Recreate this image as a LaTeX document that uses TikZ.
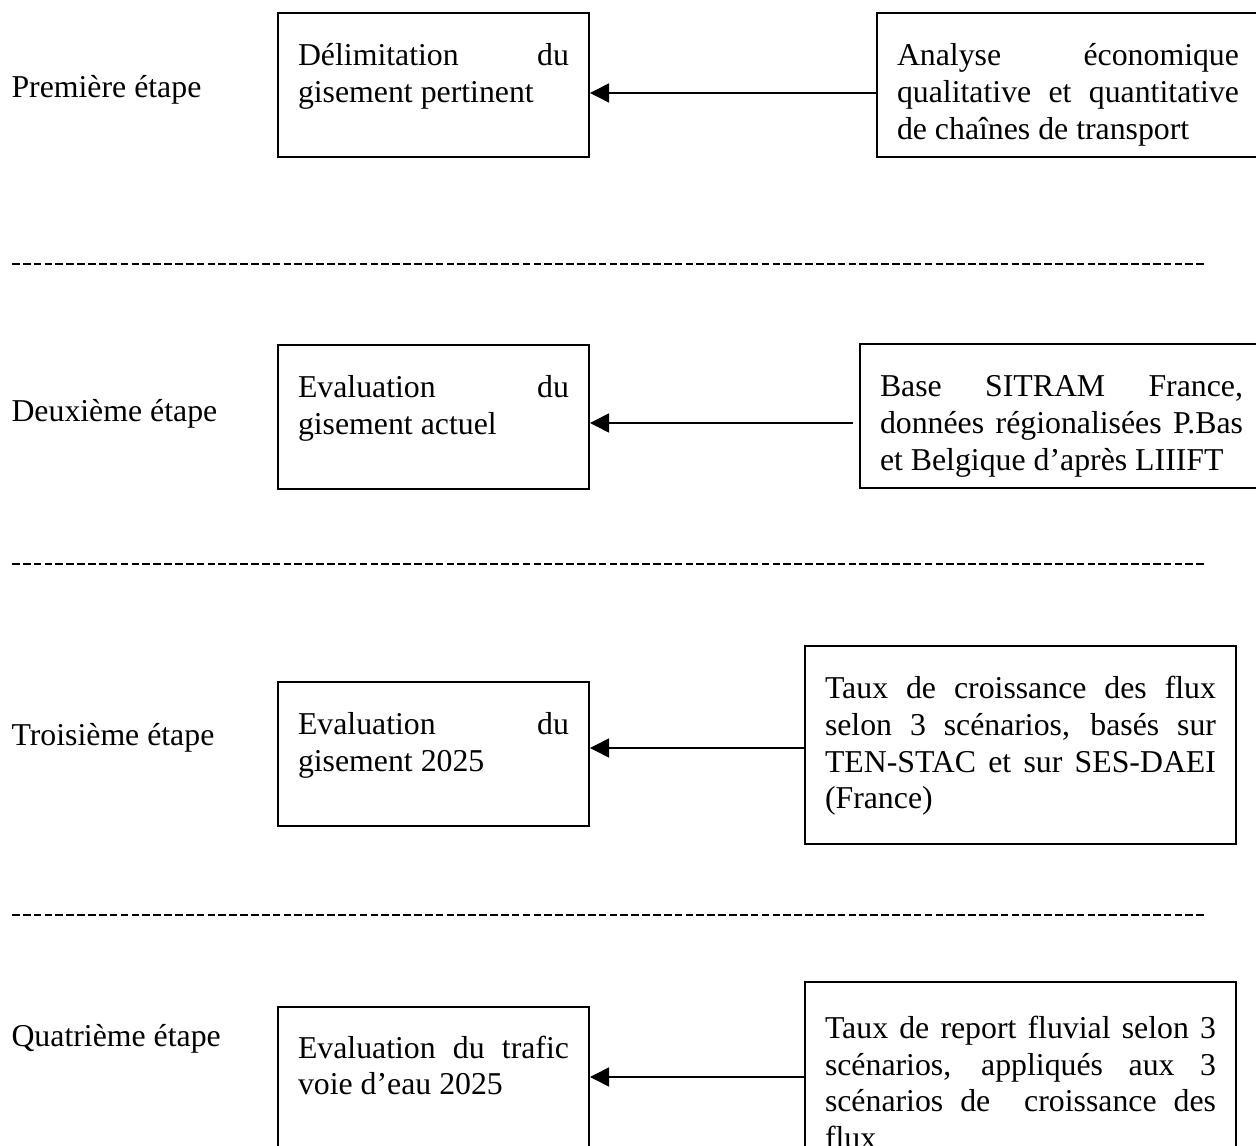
\documentclass[tikz,border=0pt]{standalone}
\usepackage{fontspec}
\setmainfont{Liberation Serif}
\usetikzlibrary{positioning,arrows.meta}
\hyphenpenalty=10000
\exhyphenpenalty=10000
\tikzset{
  stepbox/.style  = {draw, line width=0.75pt, anchor=north west, inner xsep=7.55pt,
                     inner ysep=0pt, align=justify, text height=20pt},
  leftbox/.style  = {stepbox, text width=102.26pt, text depth=34.34pt},
  stagelbl/.style = {anchor=base west, inner sep=0pt},
  flow/.style     = {-{Triangle[length=7.2pt,width=7.2pt]}, line width=0.6pt},
  sepline/.style  = {line width=0.8pt, dash pattern=on 2.9pt off 1.2pt},
}

\begin{document}
\begin{tikzpicture}[x=0.37736pt,y=-0.37736pt,font=\fontsize{12pt}{13.78pt}\selectfont]
  \useasboundingbox (0,0) rectangle (1256,1146);
  % stage labels
  \node[stagelbl] (lbl1) at (11,98)   {Première étape};
  \node[stagelbl] (lbl2) at (11,422)  {Deuxième étape};
  \node[stagelbl] (lbl3) at (11,746)  {Troisième étape};
  \node[stagelbl] (lbl4) at (11,1047) {Quatrième étape};
  % step boxes
  \node[leftbox] (step1) at (277,12)  {Délimitation du\linebreak gisement pertinent};
  \node[leftbox] (step2) at (277,344) {Evaluation du\linebreak gisement actuel};
  \node[leftbox] (step3) at (277,681) {Evaluation du\linebreak gisement 2025};
  \node[leftbox,text height=19.25pt,text depth=80pt] (step4) at (277,1006)
    {Evaluation du trafic\linebreak voie d’eau 2025};
  % source boxes
  \node[stepbox,text width=129.06pt,text depth=34.34pt] (src1) at (876,12)
    {Analyse économique\linebreak qualitative et quantitative\linebreak de chaînes de transport};
  \node[stepbox,text width=136.98pt,text depth=34.34pt] (src2) at (859,343)
    {Base SITRAM France,\linebreak données régionalisées P.Bas\linebreak et Belgique d’après LIIIFT};
  \node[stepbox,text width=147.55pt,text depth=54.72pt] (src3) at (804,645)
    {Taux de croissance des flux\linebreak selon 3 scénarios, basés sur\linebreak TEN-STAC et sur SES-DAEI\linebreak (France)};
  \node[stepbox,text width=147.55pt,text height=21.5pt,text depth=80pt] (src4) at (804,981)
    {Taux de report fluvial selon 3\linebreak scénarios, appliqués aux 3\linebreak scénarios de\ \ croissance des\linebreak flux};
  % arrows
  \draw[flow] (src1.west |- 0,93) -- (step1.east |- 0,93);
  \draw[flow] ([xshift=-2.26pt]src2.west |- 0,423) -- (step2.east |- 0,423);
  \draw[flow] (src3.west |- 0,748) -- (step3.east |- 0,748);
  \draw[flow] (src4.west |- 0,1077) -- (step4.east |- 0,1077);
  % separators
  \foreach \y in {264,564,915}
    \draw[sepline] (12,\y) -- (1204,\y);
\end{tikzpicture}
\end{document}
